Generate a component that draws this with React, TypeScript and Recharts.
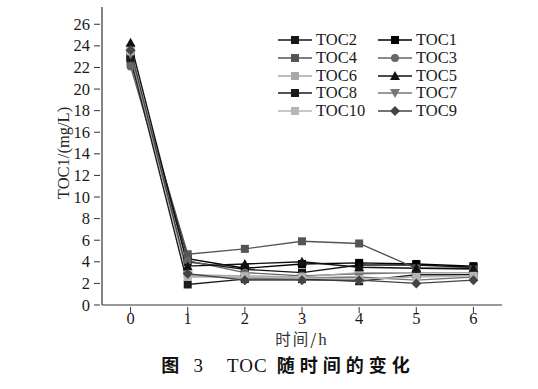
import { LineChart, Line, XAxis, YAxis } from "recharts";

// 时间 (h)
const hours = [0, 1, 2, 3, 4, 5, 6];
const yTicks = [0, 2, 4, 6, 8, 10, 12, 14, 16, 18, 20, 22, 24, 26];

// TOC 读数 (mg/L)
const toc1 = [23.0, 4.3, 3.4, 3.8, 3.9, 3.8, 3.6];
const toc2 = [22.8, 4.0, 3.3, 3.0, 3.7, 3.7, 3.5];
const toc3 = [22.1, 4.1, 3.0, 2.7, 2.9, 3.0, 3.0];
const toc4 = [22.5, 4.7, 5.2, 5.9, 5.7, 3.4, 3.3];
const toc5 = [24.3, 3.6, 3.8, 4.0, 3.5, 3.4, 3.4];
const toc6 = [23.8, 2.8, 2.7, 2.6, 3.0, 3.0, 3.0];
const toc7 = [23.2, 2.7, 2.5, 2.5, 2.6, 2.3, 2.6];
const toc8 = [22.9, 1.9, 2.4, 2.4, 2.2, 2.8, 2.8];
const toc9 = [23.6, 2.9, 2.3, 2.3, 2.3, 2.0, 2.3];
const toc10 = [23.5, 2.6, 2.6, 2.5, 2.4, 2.6, 2.7];

type Shape = "square" | "circle" | "triangle" | "down" | "diamond";

const series: { key: string; values: number[]; color: string; shape: Shape }[] = [
  { key: "TOC2", values: toc2, color: "#151515", shape: "square" },
  { key: "TOC1", values: toc1, color: "#000000", shape: "square" },
  { key: "TOC4", values: toc4, color: "#555555", shape: "square" },
  { key: "TOC3", values: toc3, color: "#666666", shape: "circle" },
  { key: "TOC6", values: toc6, color: "#a8a8a8", shape: "square" },
  { key: "TOC5", values: toc5, color: "#111111", shape: "triangle" },
  { key: "TOC8", values: toc8, color: "#1a1a1a", shape: "square" },
  { key: "TOC7", values: toc7, color: "#777777", shape: "down" },
  { key: "TOC10", values: toc10, color: "#b5b5b5", shape: "square" },
  { key: "TOC9", values: toc9, color: "#444444", shape: "diamond" },
];

const data = hours.map((h, i) => {
  const row: Record<string, number> = { t: h };
  series.forEach((s) => (row[s.key] = s.values[i]));
  return row;
});

const FONT = "'Liberation Serif', 'Times New Roman', serif";
const CJK = "'Noto Sans CJK SC', sans-serif";

function marker(shape: Shape, color: string, cx: number, cy: number, k?: string) {
  const r = 4;
  if (shape === "square")
    return <rect key={k} x={cx - r} y={cy - r} width={2 * r} height={2 * r} fill={color} />;
  if (shape === "circle") return <circle key={k} cx={cx} cy={cy} r={r} fill={color} />;
  if (shape === "triangle")
    return <polygon key={k} points={`${cx},${cy - r - 1} ${cx + r + 1},${cy + r} ${cx - r - 1},${cy + r}`} fill={color} />;
  if (shape === "down")
    return <polygon key={k} points={`${cx},${cy + r + 1} ${cx + r + 1},${cy - r} ${cx - r - 1},${cy - r}`} fill={color} />;
  return <polygon key={k} points={`${cx},${cy - r - 1} ${cx + r + 1},${cy} ${cx},${cy + r + 1} ${cx - r - 1},${cy}`} fill={color} />;
}

const XTick = (props: any) => {
  const { x, y, payload } = props;
  return (
    <g>
      <line x1={x} y1={y - 6} x2={x} y2={y} stroke="#333" strokeWidth={1} />
      <text x={x} y={y + 11} textAnchor="middle" fontFamily="serif" fontSize={16.5} fill="#1a1a1a">
        {payload.value}
      </text>
    </g>
  );
};

const YTick = (props: any) => {
  const { x, y, payload } = props;
  return (
    <g>
      <line x1={x} y1={y} x2={x + 6} y2={y} stroke="#333" strokeWidth={1} />
      <text x={x - 4} y={y + 5.5} textAnchor="end" fontFamily="serif" fontSize={16.5} fill="#1a1a1a">
        {payload.value}
      </text>
    </g>
  );
};

const LegendBox = () => (
  <div style={{ position: "absolute", left: 276, top: 30, width: 240, height: 100 }}>
    {series.map((s, i) => {
      const col = i % 2;
      const row = Math.floor(i / 2);
      const x0 = col * 100;
      const y0 = 10 + row * 17.8;
      return (
        <div key={s.key} style={{ position: "absolute", left: x0, top: y0 - 9, height: 18, width: 100 }}>
          <svg width={38} height={18} style={{ position: "absolute", left: 0, top: 0 }}>
            <line x1={2} y1={9} x2={36} y2={9} stroke={s.color} strokeWidth={1.5} />
            {marker(s.shape, s.color, 19, 9)}
          </svg>
          <span
            style={{
              position: "absolute",
              left: 40,
              top: 0,
              lineHeight: "18px",
              fontFamily: FONT,
              fontSize: 16.5,
              color: "#1a1a1a",
            }}
          >
            {s.key}
          </span>
        </div>
      );
    })}
  </div>
);

export default function App() {
  return (
    <div
      style={{
        position: "absolute",
        left: 0,
        top: 0,
        width: 538,
        height: 389,
        background: "#fff",
        fontFamily: FONT,
      }}
    >
      <LineChart width={538} height={389} data={data} margin={{ top: 7, right: 36, left: 62, bottom: 54 }}>
        <XAxis
          dataKey="t"
          type="number"
          domain={[-0.5, 6.5]}
          ticks={hours}
          interval={0}
          height={30}
          axisLine={{ stroke: "#333", strokeWidth: 1.2 }}
          tickLine={false}
          tick={<XTick />}
        />
        <YAxis
          type="number"
          domain={[0, 27.6]}
          ticks={yTicks}
          interval={0}
          width={40}
          axisLine={{ stroke: "#333", strokeWidth: 1.2 }}
          tickLine={false}
          tick={<YTick />}
        />
        {series.map((s) => (
          <Line
            key={s.key}
            dataKey={s.key}
            stroke={s.color}
            strokeWidth={1.4}
            isAnimationActive={false}
            dot={(p: any) => marker(s.shape, s.color, p.cx, p.cy, `${s.key}-${p.index}`)}
            activeDot={false}
          />
        ))}
      </LineChart>
      <LegendBox />
      <div
        style={{
          position: "absolute",
          left: 64,
          top: 153,
          transform: "translate(-50%, -50%) rotate(-90deg)",
          fontSize: 16.5,
          color: "#222",
          whiteSpace: "nowrap",
        }}
      >
        TOC1/(mg/L)
      </div>
      <div
        style={{
          position: "absolute",
          left: 302,
          top: 339,
          transform: "translate(-50%, -50%)",
          fontFamily: CJK,
          fontSize: 15.5,
          letterSpacing: 2,
          lineHeight: "16px",
          color: "#333",
          whiteSpace: "nowrap",
        }}
      >
        时间/<span style={{ fontFamily: FONT, fontSize: 17 }}>h</span>
      </div>
      <div
        style={{
          position: "absolute",
          left: 288,
          top: 364,
          transform: "translate(-50%, -50%)",
          fontSize: 18,
          color: "#111",
          whiteSpace: "nowrap",
          fontFamily: CJK,
          fontWeight: "bold",
          letterSpacing: 5,
        }}
      >
        图 <span style={{ fontFamily: FONT, fontWeight: "normal", fontSize: 19, letterSpacing: 1 }}>3&nbsp;&nbsp;&nbsp;&nbsp;TOC</span> 随时间的变化
      </div>
    </div>
  );
}
